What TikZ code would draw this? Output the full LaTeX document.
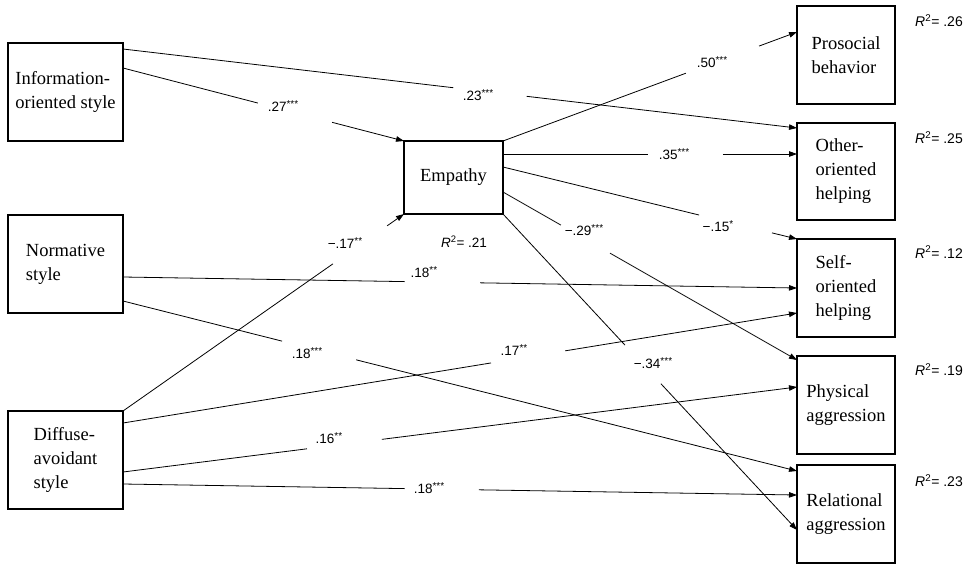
\documentclass[tikz,border=0pt]{standalone}
\usepackage{fontspec}
\setmainfont{Liberation Serif}
\newfontfamily\labfont{Liberation Sans}
\usetikzlibrary{calc,arrows.meta}
\tikzset{
  box/.style={draw, line width=1.6pt, outer sep=0pt, inner sep=0pt, align=left,
    font=\fontsize{18.5}{24}\selectfont},
  lbox/.style={box, minimum width=115pt, minimum height=98pt},
  rbox/.style={box, minimum width=98pt, minimum height=98pt},
  conn/.style={line width=0.8pt},
  arr/.style={line width=0.8pt, -{Triangle[length=8pt,width=5.5pt]}},
  coef/.style={font=\labfont\fontsize{13.5}{15}\selectfont, inner sep=0pt},
  rsq/.style={font=\labfont\fontsize{14}{16}\selectfont, inner sep=0pt},
}
\newcommand\gapline[5]{%
  \path (#1) -- coordinate[pos=#3](#5a) coordinate[pos=#4](#5b) (#2);
  \draw[conn] (#1) -- (#5a);
  \draw[arr] (#5b) -- (#2);
}
\newcommand\stars[1]{\raisebox{0.35em}{\fontsize{10}{10}\selectfont #1}}
\begin{document}
\begin{tikzpicture}[x=1pt,y=-1pt]
\useasboundingbox (0,0) rectangle (973,565);
% boxes
\node[lbox] (info) at (65.5,92) {Information-\\oriented style};
\node[lbox] (norm) at (65.5,264) {Normative\\style};
\node[lbox] (diff) at (65.5,460) {Diffuse-\\avoidant\\style};
\node[box, minimum width=99pt, minimum height=73pt] (emp) at (453.5,177.5) {Empathy};
\node[rbox] (pro) at (846,55) {Prosocial\\behavior};
\node[rbox, minimum height=97pt] (oth) at (846,171.5) {Other-\\oriented\\helping};
\node[rbox] (self) at (846,288) {Self-\\oriented\\helping};
\node[rbox] (phy) at (846,405) {Physical\\aggression};
\node[rbox] (rel) at (846,514) {Relational\\aggression};
% R squared
\node[rsq] (r1) at (939,21) {\itshape R\upshape\textsuperscript{2}= .26};
\node[rsq] (r2) at (939,138) {\itshape R\upshape\textsuperscript{2}= .25};
\node[rsq] (r3) at (939,252) {\itshape R\upshape\textsuperscript{2}= .12};
\node[rsq] (r4) at (939,370) {\itshape R\upshape\textsuperscript{2}= .19};
\node[rsq] (r5) at (939,481) {\itshape R\upshape\textsuperscript{2}= .23};
\node[rsq, font=\labfont\fontsize{13.5}{15}\selectfont] (r0) at (464,242) {\itshape R\upshape\textsuperscript{2}= .21};
% end points
\coordinate (i1) at ($(info.north east)+(0,6)$);
\coordinate (i2) at ($(info.north east)+(0,25)$);
\coordinate (n1) at ($(norm.north east)+(0,62)$);
\coordinate (n2) at ($(norm.north east)+(0,86)$);
\coordinate (d1) at ($(diff.north east)+(0,12)$);
\coordinate (d2) at ($(diff.north east)+(0,61)$);
\coordinate (d3) at ($(diff.north east)+(0,73)$);
\coordinate (e1) at ($(emp.north east)+(0,13)$);
\coordinate (e2) at ($(emp.north east)+(0,26)$);
\coordinate (e3) at ($(emp.north east)+(0,51)$);
\coordinate (p1) at ($(pro.north west)+(0,26)$);
\coordinate (o1) at ($(oth.north west)+(0,5)$);
\coordinate (o2) at ($(oth.north west)+(0,31)$);
\coordinate (s1) at ($(self.north west)+(0,49)$);
\coordinate (s2) at ($(self.north west)+(0,74)$);
\coordinate (h1) at ($(phy.north west)+(0,4)$);
\coordinate (h2) at ($(phy.north west)+(0,31)$);
\coordinate (l1) at ($(rel.north west)+(0,6)$);
\coordinate (l2) at ($(rel.north west)+(0,30)$);
\coordinate (l3) at ($(rel.north west)+(0,65)$);
% connectors
\gapline{i2}{emp.north west}{0.480}{0.744}{ga}
\gapline{i1}{o1}{0.490}{0.599}{gb}
\gapline{emp.north east}{p1}{0.622}{0.871}{gc}
\gapline{e1}{o2}{0.493}{0.748}{gd}
\gapline{e2}{self.north west}{0.667}{0.915}{ge}
\gapline{e3}{h1}{0.197}{0.364}{gf}
\gapline{emp.south east}{l3}{0.415}{0.537}{gg}
\gapline{n1}{s1}{0.418}{0.530}{gh}
\gapline{n2}{l1}{0.236}{0.346}{gi}
\gapline{diff.north east}{emp.south west}{0.747}{0.940}{gj}
\gapline{d1}{s2}{0.546}{0.656}{gk}
\gapline{d2}{h2}{0.273}{0.384}{gl}
\gapline{d3}{l2}{0.418}{0.528}{gm}
% coefficients
\node[coef] (ca) at (283,106) {.27\stars{***}};
\node[coef] (cb) at (478,95) {.23\stars{***}};
\node[coef] (cc) at (712,62) {.50\stars{***}};
\node[coef] (cd) at (674,154) {.35\stars{***}};
\node[coef] (ce) at (718,226) {−.15\stars{*}};
\node[coef] (cf) at (584,230) {−.29\stars{***}};
\node[coef] (cg) at (653,363) {−.34\stars{***}};
\node[coef] (ch) at (424,272) {.18\stars{**}};
\node[coef] (ci) at (307,353) {.18\stars{***}};
\node[coef] (cj) at (345,243) {−.17\stars{**}};
\node[coef] (ck) at (514,350) {.17\stars{**}};
\node[coef] (cl) at (329,438) {.16\stars{**}};
\node[coef] (cm) at (429,488) {.18\stars{***}};
\end{tikzpicture}
\end{document}
